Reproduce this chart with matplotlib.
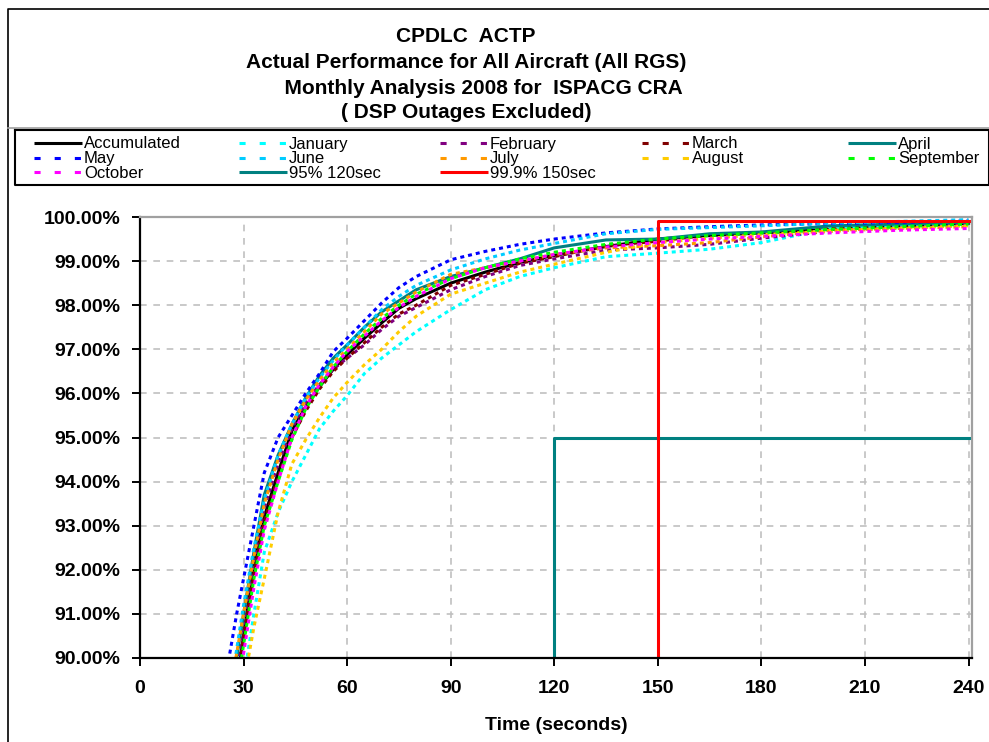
import matplotlib
matplotlib.use("Agg")
import matplotlib.pyplot as plt
from matplotlib.ticker import FuncFormatter, MultipleLocator

plt.rcParams['font.family'] = ['Liberation Sans', 'DejaVu Sans']

# Datos (tiempo en segundos, % acumulado)
tiempos = [26, 28, 30, 33, 36, 40, 44, 48, 52, 56, 60, 65, 70, 75, 80, 90,
           100, 110, 120, 135, 150, 165, 180, 200, 220, 240]

accumulated = [88.3, 89.4, 90.5, 92.1, 93.2, 94.2, 95.15, 95.7, 96.15, 96.55, 96.88, 97.25, 97.6,
               97.93, 98.15, 98.5, 98.75, 98.97, 99.13, 99.33, 99.5, 99.58, 99.64, 99.72, 99.79, 99.86]
january = [87.5, 88.6, 89.5, 91.0, 92.4, 93.3, 94.0, 94.6, 95.2, 95.6, 95.95, 96.45, 96.8,
           97.1, 97.4, 97.9, 98.35, 98.65, 98.85, 99.1, 99.18, 99.27, 99.42, 99.74, 99.8, 99.85]
february = [88.8, 89.8, 90.8, 92.2, 93.4, 94.4, 95.2, 95.8, 96.2, 96.55, 96.8, 97.1, 97.45,
            97.75, 97.95, 98.35, 98.65, 98.9, 99.05, 99.25, 99.3, 99.38, 99.52, 99.68, 99.75, 99.82]
march = [88.5, 89.5, 90.5, 91.9, 93.1, 94.1, 95.0, 95.6, 96.1, 96.5, 96.8, 97.15, 97.5,
         97.8, 98.0, 98.45, 98.7, 98.95, 99.1, 99.35, 99.45, 99.6, 99.65, 99.74, 99.82, 99.9]
april = [89.0, 90.0, 91.0, 92.4, 93.7, 94.6, 95.3, 95.9, 96.4, 96.8, 97.1, 97.5, 97.85,
         98.1, 98.35, 98.65, 98.85, 99.05, 99.3, 99.48, 99.5, 99.62, 99.66, 99.8, 99.84, 99.88]
may = [90.1, 91.0, 91.8, 93.0, 94.2, 95.0, 95.5, 96.0, 96.45, 96.95, 97.25, 97.65, 98.05,
       98.4, 98.65, 99.03, 99.22, 99.38, 99.5, 99.64, 99.73, 99.78, 99.82, 99.85, 99.88, 99.91]
june = [89.2, 90.2, 91.2, 92.5, 93.6, 94.6, 95.3, 95.9, 96.35, 96.75, 97.1, 97.5, 97.9,
        98.2, 98.45, 98.8, 99.05, 99.25, 99.4, 99.62, 99.72, 99.76, 99.8, 99.86, 99.9, 99.94]
july = [89.3, 90.1, 91.0, 92.3, 93.5, 94.5, 95.3, 95.85, 96.3, 96.7, 97.0, 97.4, 97.8,
        98.05, 98.3, 98.7, 98.85, 99.0, 99.15, 99.3, 99.35, 99.42, 99.55, 99.7, 99.74, 99.78]
august = [87.0, 88.2, 89.4, 90.7, 91.8, 93.3, 94.4, 94.95, 95.45, 95.9, 96.25, 96.65, 97.0,
          97.4, 97.75, 98.25, 98.5, 98.75, 98.93, 99.2, 99.42, 99.52, 99.6, 99.68, 99.75, 99.8]
september = [88.4, 89.3, 90.3, 91.8, 93.0, 94.0, 94.95, 95.65, 96.15, 96.6, 96.95, 97.35, 97.7,
             98.0, 98.25, 98.6, 98.85, 99.05, 99.2, 99.38, 99.5, 99.58, 99.64, 99.72, 99.78, 99.84]
october = [88.3, 89.2, 90.1, 91.6, 92.9, 94.0, 95.0, 95.7, 96.2, 96.6, 96.95, 97.3, 97.65,
           97.95, 98.2, 98.6, 98.85, 99.0, 99.15, 99.32, 99.42, 99.5, 99.56, 99.64, 99.7, 99.74]

# lineas de requisito
req95_t = [120, 120, 240]
req95_p = [90, 95, 95]
req999_t = [150, 150, 240]
req999_p = [90, 99.9, 99.9]

series = [
    ('Accumulated', accumulated, '#000000', '-'),
    ('January', january, '#00FFFF', '--'),
    ('February', february, '#800080', '--'),
    ('March', march, '#800000', '--'),
    ('April', april, '#008080', '-'),
    ('May', may, '#0000FF', '--'),
    ('June', june, '#00CCFF', '--'),
    ('July', july, '#FF9900', '--'),
    ('August', august, '#FFCC00', '--'),
    ('September', september, '#00FF00', '--'),
    ('October', october, '#FF00FF', '--'),
]
ref_lines = [
    ('95% 120sec', req95_t, req95_p, '#008080'),
    ('99.9% 150sec', req999_t, req999_p, '#FF0000'),
]

titulo = ['CPDLC  ACTP',
          'Actual Performance for All Aircraft (All RGS)',
          '      Monthly Analysis 2008 for  ISPACG CRA',
          '( DSP Outages Excluded)']

fig = plt.figure(figsize=(9.89, 7.42), dpi=100)

# capa de fondo en pixeles para marco, titulo y leyenda
bg = fig.add_axes([0, 0, 1, 1], zorder=0)
bg.set_xlim(0, 989)
bg.set_ylim(742, 0)
bg.axis('off')
bg.plot([8, 8, 989], [742, 9, 9], color='black', lw=1.2)
bg.plot([8, 989], [128, 128], color='#A0A0A0', lw=1.2)
bg.plot([15, 15, 989, 989, 15], [130, 185, 185, 130, 130], color='black', lw=1.5)

for i, linea in enumerate(titulo):
    bg.text(466, [37, 62, 88, 113][i], linea, ha='center', va='center',
            fontsize=15, fontweight='bold')

# leyenda manual (filas de 5)
col_x = [34, 239, 440, 642, 848]
row_y = [143, 157.5, 172]
entradas = [(s[0], s[2], s[3]) for s in series] + [(r[0], r[3], '-') for r in ref_lines]
for k, (nombre, color, estilo) in enumerate(entradas):
    x0 = col_x[k % 5]
    y0 = row_y[k // 5]
    if estilo == '-':
        bg.plot([x0, x0 + 48], [y0, y0], color=color, lw=2.2, solid_capstyle='butt')
    else:
        bg.plot([x0, x0 + 48], [y0, y0], color=color, lw=2.2,
                linestyle=(0, (2.0, 4.6)), dash_capstyle='butt')
    bg.text(x0 + 50, y0 + 1, nombre, ha='left', va='center', fontsize=12)

# grafico principal
ax = fig.add_axes([140 / 989, (742 - 658) / 742, (972 - 140) / 989, (658 - 217) / 742], zorder=1)
ax.set_facecolor('white')

for nombre, valores, color, estilo in series:
    if estilo == '-':
        ax.plot(tiempos, valores, color=color, lw=2.2, label=nombre)
    else:
        ax.plot(tiempos, valores, color=color, lw=2.2, linestyle=(0, (1.3, 1.3)), label=nombre)

for nombre, tt, pp, color in ref_lines:
    ax.plot(tt, pp, color=color, lw=2.2, label=nombre)

ax.set_xlim(0, 241)
ax.set_ylim(90, 100)
ax.xaxis.set_major_locator(MultipleLocator(30))
ax.yaxis.set_major_locator(MultipleLocator(1))
ax.yaxis.set_major_formatter(FuncFormatter(lambda v, p: f'{v:.2f}%'))
ax.grid(True, color='#C0C0C0', linestyle=(0, (4, 4)), lw=1.2)
ax.set_axisbelow(True)

for lado in ['left', 'bottom']:
    ax.spines[lado].set_color('black')
    ax.spines[lado].set_linewidth(1.6)
for lado in ['top', 'right']:
    ax.spines[lado].set_color('#A0A0A0')
    ax.spines[lado].set_linewidth(1.6)

ax.tick_params(direction='out', length=6, width=1.4, color='black', labelsize=14)
ax.tick_params(axis='x', pad=10)
ax.tick_params(axis='y', pad=8)
for lab in ax.get_xticklabels() + ax.get_yticklabels():
    lab.set_fontweight('bold')

ax.set_xlabel('Time (seconds)', fontsize=14, fontweight='bold', labelpad=14)

fig.savefig('out.png', dpi=100)
